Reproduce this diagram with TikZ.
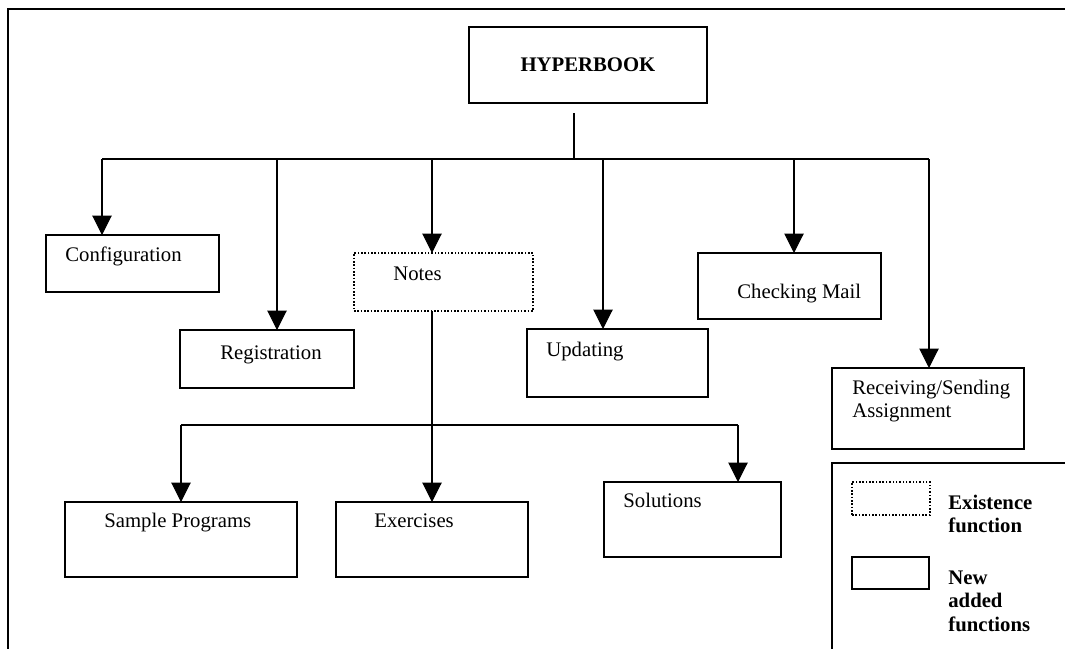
\documentclass[tikz,border=0pt]{standalone}
\usepackage{fontspec}
\setmainfont{Liberation Serif}
\usetikzlibrary{arrows.meta}

\begin{document}
\begin{tikzpicture}[x=0.02cm,y=-0.02cm,
    font=\fontsize{11.8}{14}\selectfont,
    box/.style={draw,line width=0.9pt,inner sep=0pt,outer sep=0pt,anchor=north west},
    dotbox/.style={box,densely dotted},
    lbl/.style={inner sep=0pt,anchor=west,text height=8pt,text depth=2.5pt},
    arr/.style={line width=0.6pt,-{Triangle[length=11pt,width=11pt]}}]
  \useasboundingbox (0,0) rectangle (1065,649);
  % frame
  \draw[line width=0.9pt] (8,649)--(8,9)--(1065,9);
  % top
  \node[box,minimum width=4.76cm,minimum height=1.52cm] (hyper) at (469,27) {\bfseries HYPERBOOK};
  % first level
  \node[box,minimum width=3.46cm,minimum height=1.14cm] (conf) at (46,235) {};
  \node[lbl] (confT) at (65,257) {Configuration};
  \node[box,minimum width=3.48cm,minimum height=1.16cm] (reg) at (180,330) {};
  \node[lbl] (regT) at (220,355) {Registration};
  \node[dotbox,minimum width=3.58cm,minimum height=1.16cm] (notes) at (354,253) {};
  \node[lbl] (notesT) at (393,276) {Notes};
  \node[box,minimum width=3.62cm,minimum height=1.36cm] (upd) at (527,329) {};
  \node[lbl] (updT) at (546,352) {Updating};
  \node[box,minimum width=3.66cm,minimum height=1.32cm] (mail) at (698,253) {};
  \node[lbl] (mailT) at (737,294) {Checking Mail};
  \node[box,minimum width=3.84cm,minimum height=1.62cm] (recv) at (832,368) {};
  \node[lbl] (recvT) at (852,390) {Receiving/Sending};
  \node[lbl] (recvU) at (852,413) {Assignment};
  % second level
  \node[box,minimum width=4.64cm,minimum height=1.5cm] (samp) at (65,502) {};
  \node[lbl] (sampT) at (104,523) {Sample Programs};
  \node[box,minimum width=3.84cm,minimum height=1.5cm] (exer) at (336,502) {};
  \node[lbl] (exerT) at (374,523) {Exercises};
  \node[box,minimum width=3.54cm,minimum height=1.5cm] (sol) at (604,482) {};
  \node[lbl] (solT) at (623,503) {Solutions};
  % connectors
  \coordinate (stem) at (574,113);
  \coordinate (hub) at (574,159);
  \coordinate (b1) at (102,159);
  \coordinate (b2) at (277,159);
  \coordinate (b3) at (432,159);
  \coordinate (b4) at (603,159);
  \coordinate (b5) at (794,159);
  \coordinate (b6) at (929,159);
  \draw[line width=0.6pt] (stem)--(hub);
  \draw[line width=0.6pt] (b1)--(b6);
  \foreach \b/\t in {b1/conf,b2/reg,b3/notes,b4/upd,b5/mail,b6/recv}
    \draw[arr] (\b)--(\b |- \t.north);
  \coordinate (n1) at (181,425);
  \coordinate (n3) at (738,425);
  \draw[line width=0.6pt] (n1)--(n3);
  \draw[arr] (b3 |- notes.south)--(b3 |- exer.north);
  \draw[arr] (n1)--(n1 |- samp.north);
  \draw[arr] (n3)--(n3 |- sol.north);
  % legend
  \draw[line width=0.9pt] (1065,463)--(832,463)--(832,649);
  \node[dotbox,minimum width=1.56cm,minimum height=0.66cm] (legE) at (852,482) {};
  \node[box,minimum width=1.54cm,minimum height=0.64cm] (legN) at (852,557) {};
  \node[lbl,font=\fontsize{11.8}{14}\selectfont\bfseries] (legE1) at (948,505) {Existence};
  \node[lbl,font=\fontsize{11.8}{14}\selectfont\bfseries] (legE2) at (948,528) {function};
  \node[lbl,font=\fontsize{11.8}{14}\selectfont\bfseries] (legN1) at (948,580) {New};
  \node[lbl,font=\fontsize{11.8}{14}\selectfont\bfseries] (legN2) at (948,603) {added};
  \node[lbl,font=\fontsize{11.8}{14}\selectfont\bfseries] (legN3) at (948,627) {functions};
\end{tikzpicture}
\end{document}
